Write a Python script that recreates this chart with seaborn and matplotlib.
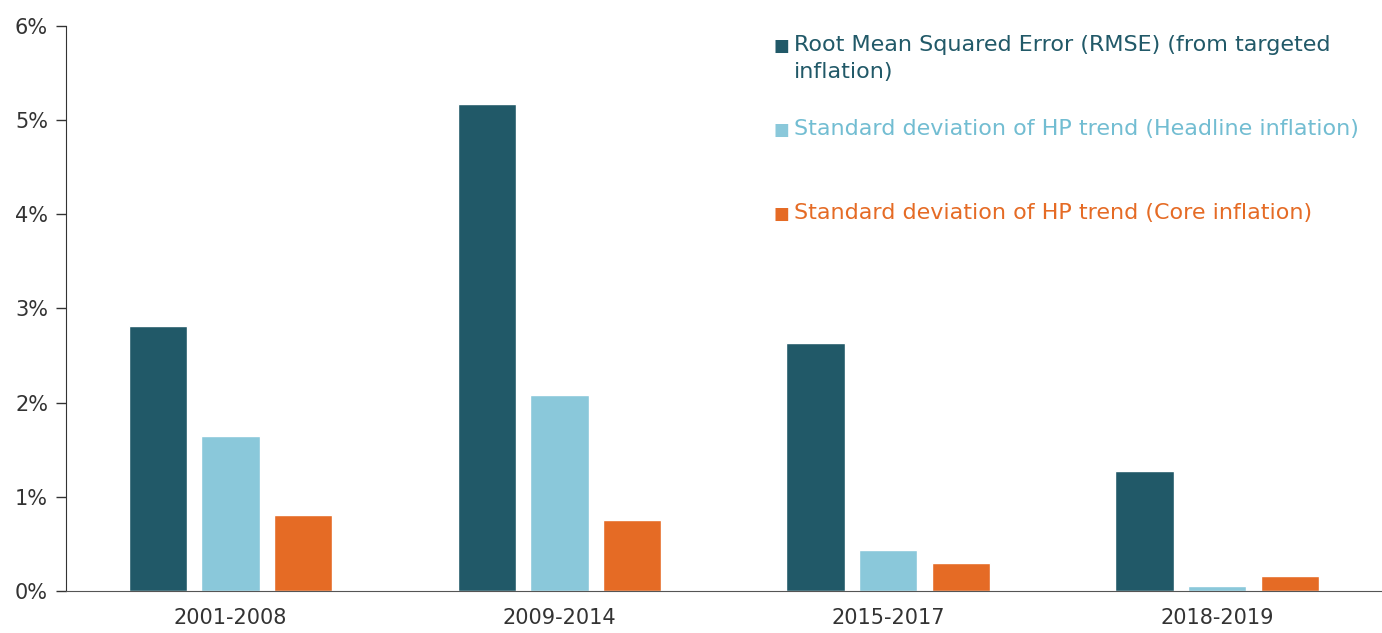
import pandas as pd
import matplotlib.pyplot as plt
import seaborn as sns
from matplotlib.ticker import FixedLocator, FuncFormatter

periods = ['2001-2008', '2009-2014', '2015-2017', '2018-2019']
series = [
    'Root Mean Squared Error (RMSE) (from targeted\ninflation)',
    'Standard deviation of HP trend (Headline inflation)',
    'Standard deviation of HP trend (Core inflation)',
]
rmse = [2.81, 5.17, 2.63, 1.27]
hp_headline = [1.65, 2.08, 0.44, 0.05]
hp_core = [0.81, 0.75, 0.30, 0.16]
colors = ['#215968', '#8AC8DA', '#E56B25']
text_colors = ['#215968', '#72BDD2', '#E56B25']

df = pd.DataFrame({
    'period': periods * 3,
    'series': [series[0]] * 4 + [series[1]] * 4 + [series[2]] * 4,
    'value': rmse + hp_headline + hp_core,
})

sns.set_style('white')
plt.rcParams['font.family'] = ['DejaVu Sans']

fig = plt.figure(figsize=(13.82, 6.33), dpi=100)
ax = fig.add_axes([0.0478, 0.0664, 0.952, 0.8926])

sns.barplot(data=df, x='period', y='value', hue='series', hue_order=series,
            palette=colors, width=0.664, gap=0.2, saturation=1, legend=False, ax=ax)

ax.set_ylim(0, 6)
ax.set_xlim(-0.5, 3.5)
ax.set_yticks(range(0, 7))
ax.yaxis.set_major_formatter(FuncFormatter(lambda v, p: f'{int(v)}%'))
ax.xaxis.set_minor_locator(FixedLocator([-0.5, 0.5, 1.5, 2.5, 3.5]))
ax.tick_params(axis='x', which='major', length=0, pad=12, labelsize=15, labelcolor='#333333')
ax.tick_params(axis='x', which='minor', length=7, width=1, color='#555555', direction='out')
ax.tick_params(axis='y', which='major', length=7, width=1, color='#333333', direction='out',
               left=True, labelsize=15, labelcolor='#333333', pad=6)
ax.set_xlabel('')
ax.set_ylabel('')

for s in ['top', 'right']:
    ax.spines[s].set_visible(False)
ax.spines['left'].set_color('#333333')
ax.spines['bottom'].set_color('#555555')

# legend drawn by hand to keep the uneven spacing of the original
legend_y = [0.9646, 0.816, 0.667]
for label, tcolor, color, y in zip(series, text_colors, colors, legend_y):
    ax.text(0.5435, y, '■', transform=ax.transAxes, color=color, fontsize=12,
            ha='center', va='center')
    ax.text(0.553, y + 0.019, label, transform=ax.transAxes, color=tcolor,
            fontsize=16, ha='left', va='top', linespacing=1.4)

fig.savefig('out.png', dpi=100)
